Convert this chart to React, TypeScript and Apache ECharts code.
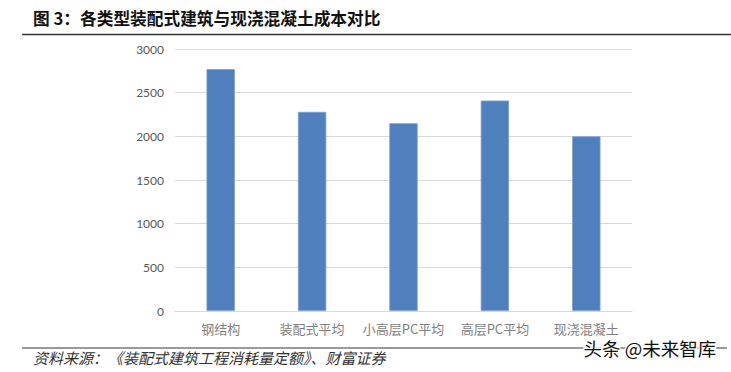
import React, { useEffect, useRef } from "react";
import * as echarts from "echarts";

const categories = ["钢结构", "装配式平均", "小高层PC平均", "高层PC平均", "现浇混凝土"];
const costValues = [2770, 2280, 2150, 2410, 2000];
const yTicks = [0, 500, 1000, 1500, 2000, 2500, 3000];

const titleText = "图 3：各类型装配式建筑与现浇混凝土成本对比";
const sourceText = "资料来源：《装配式建筑工程消耗量定额》、财富证券";
const watermarkText = "头条 @未来智库";

export default function App() {
  const ref = useRef<HTMLDivElement>(null);
  useEffect(() => {
    if (!ref.current) return;
    const chart = echarts.init(ref.current, null, { renderer: "svg" });
    chart.setOption({
      animation: false,
      backgroundColor: "#ffffff",
      grid: { left: 175, right: 99, top: 49, bottom: 61 },
      xAxis: {
        type: "category",
        data: categories,
        axisLine: { show: true, lineStyle: { color: "#d9d9d9", width: 1 } },
        axisTick: { show: false },
        axisLabel: {
          interval: 0,
          color: "#7f7f7f",
          fontSize: 13,
          margin: 11,
          fontFamily: "Noto Sans CJK SC",
        },
      },
      yAxis: {
        type: "value",
        min: yTicks[0],
        max: yTicks[yTicks.length - 1],
        interval: 500,
        axisLine: { show: false },
        axisTick: { show: false },
        splitLine: { lineStyle: { color: "#d9d9d9", width: 1 } },
        axisLabel: {
          color: "#595959",
          fontSize: 12,
          margin: 11,
          fontFamily: "Lato",
          formatter: (v: number) => String(v),
        },
      },
      series: [
        {
          type: "bar",
          data: costValues,
          barCategoryGap: "69%",
          itemStyle: { color: "#4f7fbc", borderColor: "#7d9fcc", borderWidth: 0.8 },
        },
      ],
      graphic: [
        {
          type: "text",
          left: 33,
          top: 10,
          style: {
            text: titleText,
            font: "bold 16.7px 'Noto Sans CJK SC'",
            fill: "#111",
          },
        },
        {
          type: "line",
          shape: { x1: 22, y1: 34.5, x2: 731, y2: 34.5 },
          style: { stroke: "#333", lineWidth: 1.5 },
        },
        {
          type: "line",
          shape: { x1: 22, y1: 348, x2: 727, y2: 348 },
          style: { stroke: "#333", lineWidth: 1 },
        },
        {
          type: "text",
          left: 33,
          top: 350,
          style: {
            text: sourceText,
            font: "italic 15px 'Noto Sans CJK SC'",
            fill: "#333",
          },
        },
        {
          type: "text",
          left: 582,
          top: 337,
          style: {
            text: watermarkText,
            font: "18.5px 'Noto Sans CJK SC'",
            fill: "#111",
            stroke: "#fff",
            lineWidth: 3,
          },
        },
      ],
    });
    return () => chart.dispose();
  }, []);
  return (
    <div
      ref={ref}
      style={{ position: "fixed", left: 0, top: 0, width: 731, height: 372 }}
    />
  );
}
